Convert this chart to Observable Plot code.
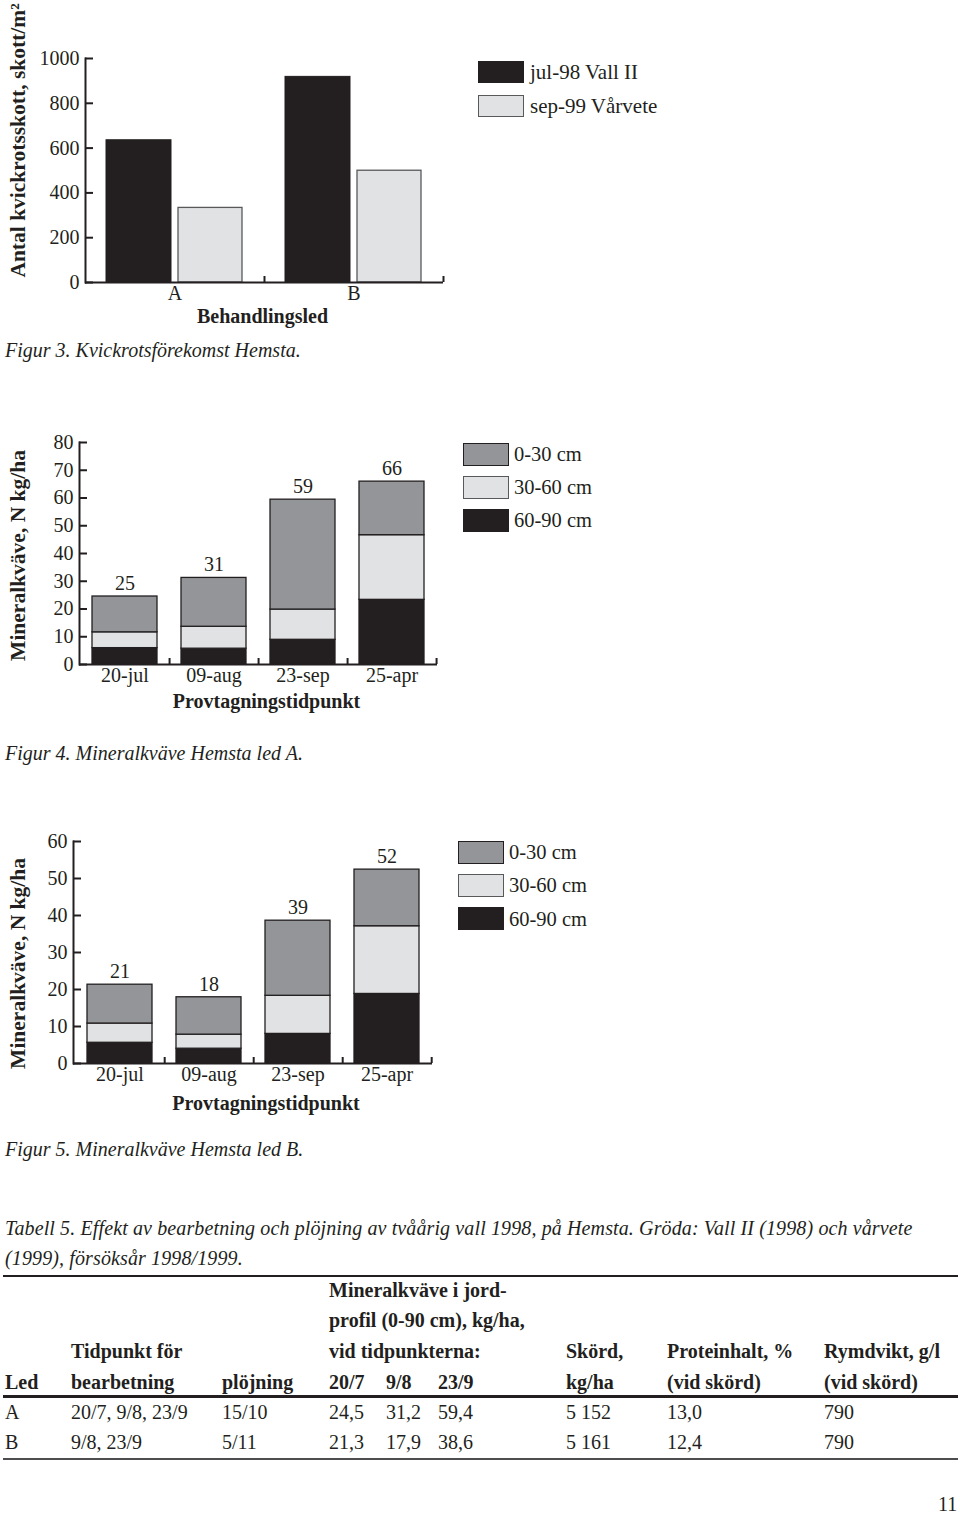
<!DOCTYPE html>
<html><head><meta charset="utf-8">
<script src="https://cdn.jsdelivr.net/npm/d3@7"></script>
<script src="https://cdn.jsdelivr.net/npm/@observablehq/plot@0.6"></script>
<style>
body{margin:0;background:#fff;}
#page{position:relative;width:960px;height:1516px;font-family:"Liberation Serif","Times New Roman",serif;font-size:20px;color:#231f20;overflow:hidden;background:#fff;}
.abs{position:absolute;white-space:nowrap;line-height:20px;}
.box{position:absolute;box-sizing:border-box;}
.rule{position:absolute;background:#231f20;}
</style></head><body><div id="page"></div>
<script>
// ---------- Figur 3 data ----------
const fig3Led = ["A", "B"];
const fig3Series = ["jul-98 Vall II", "sep-99 Vårvete"];
const fig3Jul98 = [635, 918];
const fig3Sep99 = [333, 499];
const fig3YTicks = [0, 200, 400, 600, 800, 1000];

// ---------- Figur 4 / 5 data ----------
const dates = ["20-jul", "09-aug", "23-sep", "25-apr"];
const layers = ["0-30 cm", "30-60 cm", "60-90 cm"];
const fig4Layer0_30 = [12.9, 17.6, 39.6, 19.3];
const fig4Layer30_60 = [5.7, 7.9, 10.9, 23.3];
const fig4Layer60_90 = [5.9, 5.7, 8.9, 23.3];
const fig4Labels = ["25", "31", "59", "66"];
const fig4YTicks = [0, 10, 20, 30, 40, 50, 60, 70, 80];

const fig5Layer0_30 = [10.5, 10.1, 20.3, 15.3];
const fig5Layer30_60 = [5.2, 3.8, 10.3, 18.3];
const fig5Layer60_90 = [5.6, 4.0, 8.0, 18.8];
const fig5Labels = ["21", "18", "39", "52"];
const fig5YTicks = [0, 10, 20, 30, 40, 50, 60];

// ---------- Tabell 5 data ----------
const tableCaption = [
  "Tabell 5. Effekt av bearbetning och plöjning av tvåårig vall 1998, på Hemsta. Gröda: Vall II (1998) och vårvete",
  "(1999), försöksår 1998/1999."
];
const tableHeader = [
  ["", "", "", "Mineralkväve i jord-", "", "", "", "", ""],
  ["", "", "", "profil (0-90 cm), kg/ha,", "", "", "", "", ""],
  ["", "Tidpunkt för", "", "vid tidpunkterna:", "", "", "Skörd,", "Proteinhalt, %", "Rymdvikt, g/l"],
  ["Led", "bearbetning", "plöjning", "20/7", "9/8", "23/9", "kg/ha", "(vid skörd)", "(vid skörd)"]
];
const tableRows = [
  ["A", "20/7, 9/8, 23/9", "15/10", "24,5", "31,2", "59,4", "5 152", "13,0", "790"],
  ["B", "9/8, 23/9", "5/11", "21,3", "17,9", "38,6", "5 161", "12,4", "790"]
];
const pageNumber = "11";

// ---------- styles / layout ----------
const DARK = "#231f20", MID = "#939598", LIGHT = "#e1e2e3";
const plotStyle = {fontFamily: '"Liberation Serif", "Times New Roman", serif', fontSize: "20px", color: DARK, background: "transparent", overflow: "visible"};
const page = document.getElementById("page");

function addText(txt, x, y, opts = {}) {
  const d = document.createElement("div");
  d.className = "abs";
  d.textContent = txt;
  const s = opts.size || 20;
  d.style.fontSize = s + "px";
  d.style.lineHeight = s + "px";
  d.style.left = x + "px";
  d.style.top = (y - s / 2) + "px";
  if (opts.bold) d.style.fontWeight = "bold";
  if (opts.italic) d.style.fontStyle = "italic";
  if (opts.spacing) d.style.letterSpacing = opts.spacing + "px";
  page.appendChild(d);
}
function addBox(x, y, w, h, fill, stroke) {
  const b = document.createElement("div");
  b.className = "box";
  Object.assign(b.style, {left: x + "px", top: y + "px", width: w + "px", height: h + "px", background: fill, border: "1.5px solid " + stroke});
  page.appendChild(b);
}
function addRule(x1, x2, y, t, color) {
  const r = document.createElement("div");
  r.className = "rule";
  Object.assign(r.style, {left: x1 + "px", top: (y - t / 2) + "px", width: (x2 - x1) + "px", height: t + "px", background: color || DARK});
  page.appendChild(r);
}
function place(svg, top) {
  svg.style.position = "absolute";
  svg.style.left = "0px";
  svg.style.top = top + "px";
  page.appendChild(svg);
}

// ---------- Figur 3 ----------
const fig3Rows = fig3Led.flatMap((led, i) => [
  {led, series: fig3Series[0], value: fig3Jul98[i]},
  {led, series: fig3Series[1], value: fig3Sep99[i]}
]);
const W = 460;
const f3 = {ml: 85, mr: 17, mt: 58, mb: 48, h: 330};
const f3Step = (W - f3.ml - f3.mr) / fig3Led.length;
const fig3 = Plot.plot({
  width: W, height: f3.h, marginLeft: f3.ml, marginRight: f3.mr, marginTop: f3.mt, marginBottom: f3.mb,
  style: plotStyle,
  x: {domain: fig3Led, padding: 0},
  y: {domain: [0, 1000]},
  marks: [
    Plot.barY(fig3Rows.filter(d => d.series === fig3Series[0]), {x: "led", y: "value", fill: DARK, stroke: DARK, strokeWidth: 1, insetLeft: 21, insetRight: 93}),
    Plot.barY(fig3Rows.filter(d => d.series === fig3Series[1]), {x: "led", y: "value", fill: LIGHT, stroke: "#58595b", strokeWidth: 1.3, insetLeft: 93, insetRight: 22}),
    Plot.ruleY([0], {stroke: DARK, strokeWidth: 2}),
    Plot.frame({anchor: "left", stroke: DARK, strokeWidth: 2}),
    Plot.ruleX(fig3Led, {dx: f3Step / 2, insetTop: (f3.h - f3.mt - f3.mb) - 6, stroke: DARK, strokeWidth: 2}),
    Plot.axisY({ticks: fig3YTicks, tickFormat: d => String(d), tickSize: -8, tickPadding: 14, stroke: DARK, strokeWidth: 2, label: null}),
    Plot.axisX({tickSize: 0, tickPadding: 3, label: null}),
    Plot.text(["Antal kvickrotsskott, skott/m²"], {frameAnchor: "left", textAnchor: "middle", lineAnchor: "middle", rotate: -90, dx: -67, dy: -30, fontSize: 21.5, fontWeight: "bold", fill: DARK}),
    Plot.text(["Behandlingsled"], {frameAnchor: "bottom", textAnchor: "middle", lineAnchor: "middle", dy: 34, dx: -2, fontWeight: "bold", fill: DARK})
  ]
});
place(fig3, 0);
addBox(478, 61, 46, 22, DARK, DARK);
addBox(478, 95, 46, 22, LIGHT, "#58595b");
addText(fig3Series[0], 530, 72, {size: 21});
addText(fig3Series[1], 530, 106, {size: 21});
addText("Figur 3. Kvickrotsförekomst Hemsta.", 5, 350, {italic: true});

// ---------- Figur 4 / 5 ----------
function stackChart(cfg) {
  const rows = [];
  dates.forEach((date, i) => {
    rows.push({date, layer: layers[2], value: cfg.l60_90[i]});
    rows.push({date, layer: layers[1], value: cfg.l30_60[i]});
    rows.push({date, layer: layers[0], value: cfg.l0_30[i]});
  });
  const totals = dates.map((date, i) => ({date, total: cfg.l60_90[i] + cfg.l30_60[i] + cfg.l0_30[i], label: cfg.labels[i]}));
  const pi = 0.274, po = 0.145;
  const step = (W - cfg.ml - cfg.mr) / (dates.length - pi + 2 * po);
  return Plot.plot({
    width: W, height: cfg.h, marginLeft: cfg.ml, marginRight: cfg.mr, marginTop: cfg.mt, marginBottom: cfg.mb,
    style: plotStyle,
    x: {domain: dates, paddingInner: pi, paddingOuter: po},
    y: {domain: [0, cfg.yMax]},
    color: {domain: layers, range: [MID, LIGHT, DARK]},
    marks: [
      Plot.barY(rows, {x: "date", y: "value", fill: "layer", stroke: DARK, strokeWidth: 1.3}),
      Plot.ruleY([0], {stroke: DARK, strokeWidth: 2}),
      Plot.frame({anchor: "left", stroke: DARK, strokeWidth: 2}),
      Plot.ruleX(dates, {dx: step / 2, insetTop: (cfg.h - cfg.mt - cfg.mb) - 6, stroke: DARK, strokeWidth: 2}),
      Plot.axisY({ticks: cfg.yTicks, tickFormat: d => String(d), tickSize: -8, tickPadding: 14, stroke: DARK, strokeWidth: 2, label: null}),
      Plot.axisX({tickSize: 0, tickPadding: 3, label: null}),
      Plot.text(totals, {x: "date", y: "total", text: "label", dy: -13, fill: DARK}),
      Plot.text(["Mineralkväve, N kg/ha"], {frameAnchor: "left", textAnchor: "middle", lineAnchor: "middle", rotate: -90, dx: 18 - cfg.ml, dy: cfg.ylabelDy, fontSize: 21.5, fontWeight: "bold", fill: DARK}),
      Plot.text(["Provtagningstidpunkt"], {frameAnchor: "bottom", textAnchor: "middle", lineAnchor: "middle", dy: cfg.titleDy, dx: cfg.titleDx, fontWeight: "bold", fill: DARK})
    ]
  });
}

const fig4 = stackChart({l0_30: fig4Layer0_30, l30_60: fig4Layer30_60, l60_90: fig4Layer60_90, labels: fig4Labels,
  yMax: 80, yTicks: fig4YTicks, ml: 79, mr: 23, mt: 22, mb: 56, h: 300, titleDx: 8, titleDy: 37, ylabelDy: 2});
place(fig4, 420);
addBox(463, 443, 46, 23, MID, DARK);
addBox(463, 476, 46, 23, LIGHT, "#58595b");
addBox(463, 509, 46, 23, DARK, DARK);
layers.forEach((l, i) => addText(l, 514, 454 + i * 33, {size: 20.5}));
addText("Figur 4. Mineralkväve Hemsta led A.", 5, 753, {italic: true});

const fig5 = stackChart({l0_30: fig5Layer0_30, l30_60: fig5Layer30_60, l60_90: fig5Layer60_90, labels: fig5Labels,
  yMax: 60, yTicks: fig5YTicks, ml: 73, mr: 28, mt: 21, mb: 57, h: 300, titleDx: 13, titleDy: 40, ylabelDy: 11});
place(fig5, 820);
addBox(458, 841, 46, 23, MID, DARK);
addBox(458, 874, 46, 23, LIGHT, "#58595b");
addBox(458, 907, 46, 23, DARK, DARK);
layers.forEach((l, i) => addText(l, 509, 852 + i * 33.5, {size: 20.5}));
addText("Figur 5. Mineralkväve Hemsta led B.", 5, 1149, {italic: true});

// ---------- Tabell 5 ----------
const colX = [5, 71, 222, 329, 386, 438, 566, 667, 824];
const headerY = [1290, 1320, 1351, 1382];
const rowY = [1412, 1442];
addText(tableCaption[0], 5, 1228, {italic: true, spacing: 0.12});
addText(tableCaption[1], 5, 1258, {italic: true, spacing: 0.12});
addRule(3, 958, 1276, 1.5);
tableHeader.forEach((row, r) => row.forEach((c, j) => { if (c) addText(c, colX[j], headerY[r], {bold: true}); }));
addRule(3, 958, 1396, 3);
tableRows.forEach((row, r) => row.forEach((c, j) => addText(c, colX[j], rowY[r])));
addRule(3, 958, 1459, 2, "#4d4d4f");
addText(pageNumber, 938, 1504);
</script></body></html>
